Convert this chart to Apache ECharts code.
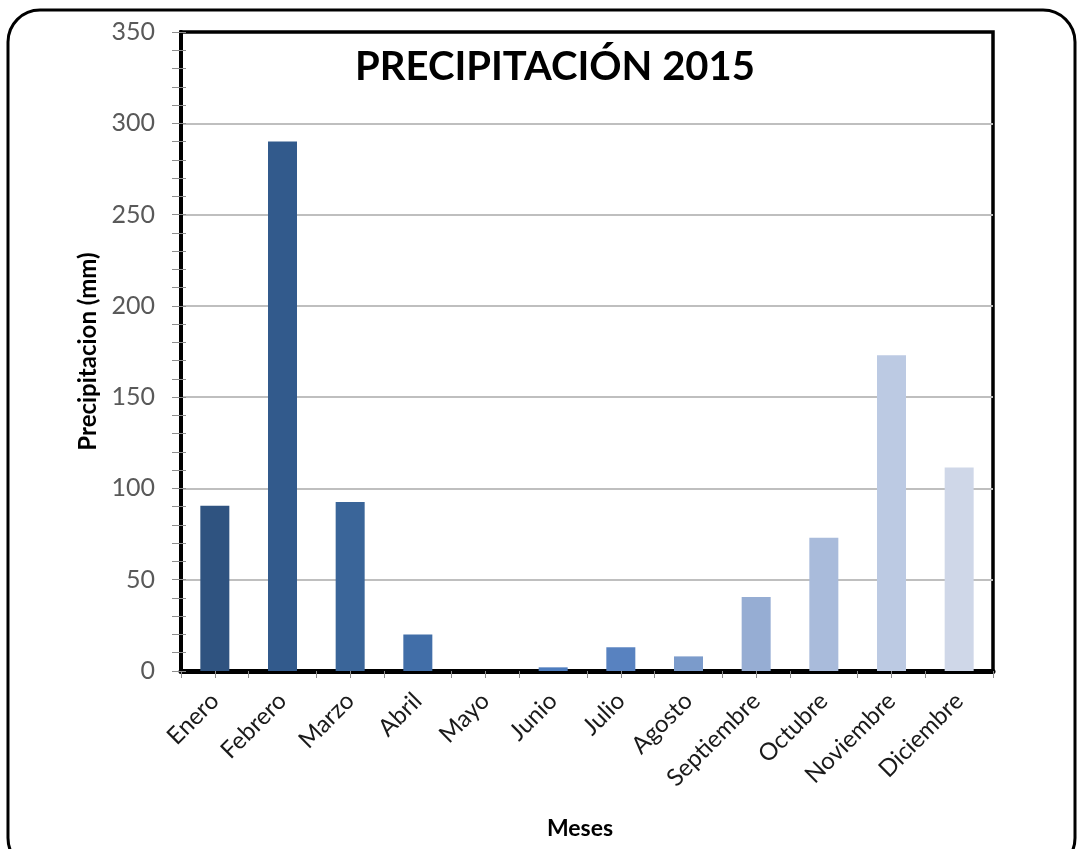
<!DOCTYPE html>
<html>
<head>
<meta charset="utf-8">
<script src="https://cdn.jsdelivr.net/npm/echarts@6/dist/echarts.min.js"></script>
<style>
  html, body { margin: 0; padding: 0; background: #ffffff; }
  #chart { width: 1078px; height: 849px; }
</style>
</head>
<body>
<div id="chart"></div>
<script>
// Monthly rainfall, 2015
const meses = ['Enero', 'Febrero', 'Marzo', 'Abril', 'Mayo', 'Junio', 'Julio',
  'Agosto', 'Septiembre', 'Octubre', 'Noviembre', 'Diciembre'];
const precipitacion = [90.5, 290, 92.5, 20, 0, 2, 13, 8, 40.5, 73, 173, 111.5];
const coloresBarra = ['#2F5380', '#325A8C', '#3A6599', '#416EA8', '#4676B3', '#4D7CBE',
  '#5882C0', '#7B9BCB', '#96ADD3', '#A9BBDB', '#BCCAE3', '#CFD7E8'];
const yMin = 0, yMax = 350, yPaso = 50;

const font = 'Lato, "Open Sans", sans-serif';
const chart = echarts.init(document.getElementById('chart'));

chart.setOption({
  animation: false,
  backgroundColor: '#ffffff',
  title: {
    text: 'PRECIPITACIÓN 2015',
    left: 550, top: 42, textAlign: 'center',
    textStyle: { fontFamily: font, fontWeight: 'bold', fontSize: 40, color: '#000000' }
  },
  graphic: [{
    type: 'rect',
    shape: { x: 8, y: 10, width: 1067, height: 860, r: 32 },
    style: { fill: 'none', stroke: '#000000', lineWidth: 3 },
    silent: true, z: 100
  }],
  grid: {
    left: 181, top: 32, right: 85, bottom: 178,
    show: true, borderColor: '#000000', borderWidth: 3.5, backgroundColor: 'transparent'
  },
  xAxis: [{
    type: 'category',
    data: meses,
    name: 'Meses',
    nameLocation: 'middle',
    nameGap: 146,
    nameTextStyle: { fontFamily: font, fontWeight: 'bold', fontSize: 23, color: '#000000', padding: [0, 14, 0, 0] },
    axisLine: { lineStyle: { color: '#000000', width: 5 } },
    axisTick: { show: true, alignWithLabel: false, length: 7, lineStyle: { color: '#8c8c8c', width: 1 } },
    axisLabel: { rotate: 45, margin: 26, fontFamily: font, fontSize: 24, color: '#1a1a1a', interval: 0 }
  }, {
    type: 'category',
    data: meses,
    position: 'bottom',
    axisLine: { show: false },
    axisTick: { show: true, alignWithLabel: true, length: 7, lineStyle: { color: '#8c8c8c', width: 1 } },
    axisLabel: { show: false }
  }],
  yAxis: [{
    type: 'value',
    min: yMin, max: yMax, interval: yPaso,
    name: 'Precipitacion (mm)',
    nameLocation: 'middle',
    nameGap: 76,
    nameTextStyle: { fontFamily: font, fontWeight: 'bold', fontSize: 24, color: '#000000' },
    axisLine: { show: true, lineStyle: { color: '#000000', width: 4 } },
    axisTick: { show: true, length: 9, lineStyle: { color: '#8c8c8c', width: 1 } },
    minorTick: { show: true, splitNumber: 5, length: 9, lineStyle: { color: '#8c8c8c', width: 1 } },
    axisLabel: { margin: 26, fontFamily: font, fontSize: 25, color: '#595959' },
    splitLine: { show: true, showMaxLine: false, lineStyle: { color: '#bfbfbf', width: 2 } }
  }, {
    type: 'value',
    min: yMin, max: yMax, interval: yPaso,
    position: 'left',
    axisLine: { show: false },
    axisTick: { show: true, inside: true, length: 5, lineStyle: { color: '#8c8c8c', width: 1 } },
    minorTick: { show: true, splitNumber: 5, length: 5, lineStyle: { color: '#8c8c8c', width: 1 } },
    axisLabel: { show: false },
    splitLine: { show: false }
  }],
  series: [{
    type: 'bar',
    xAxisIndex: 0,
    yAxisIndex: 0,
    barWidth: 29,
    z: 5,
    data: precipitacion.map((v, i) => ({
      value: v,
      itemStyle: { color: coloresBarra[i] }
    }))
  }]
});
</script>
</body>
</html>
